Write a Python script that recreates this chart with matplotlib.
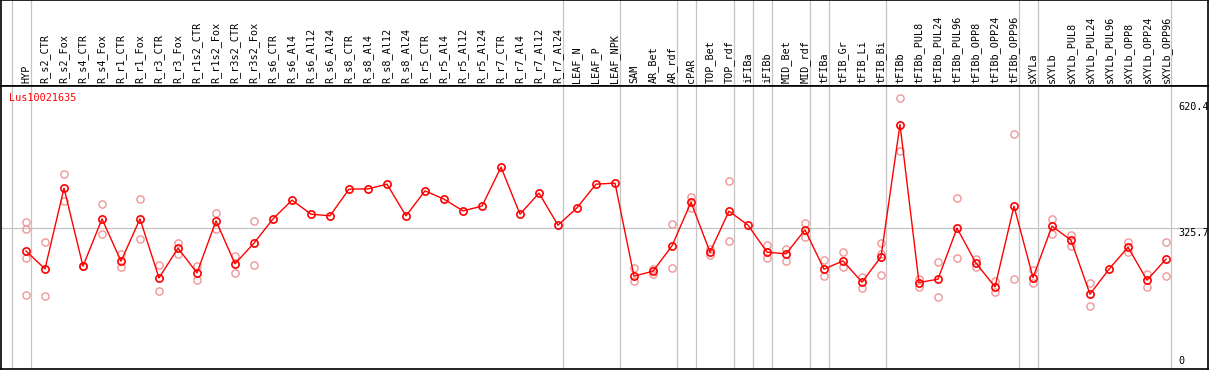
#!/usr/bin/env python3
"""
Expression profile of Lus10021635 across sample groups
Mean per sample as red line, single replicates as light circles
"""

import numpy as np
import matplotlib
matplotlib.use("Agg")
import matplotlib.pyplot as plt
import matplotlib.transforms as mtransforms

GENE_ID = "Lus10021635"

sample_labels = [
    "HYP", "R_s2_CTR", "R_s2_Fox", "R_s4_CTR", "R_s4_Fox", "R_r1_CTR", "R_r1_Fox",
    "R_r3_CTR", "R_r3_Fox", "R_r1s2_CTR", "R_r1s2_Fox", "R_r3s2_CTR", "R_r3s2_Fox",
    "R_s6_CTR", "R_s6_Al4", "R_s6_Al12", "R_s6_Al24", "R_s8_CTR", "R_s8_Al4",
    "R_s8_Al12", "R_s8_Al24", "R_r5_CTR", "R_r5_Al4", "R_r5_Al12", "R_r5_Al24",
    "R_r7_CTR", "R_r7_Al4", "R_r7_Al12", "R_r7_Al24", "LEAF_N", "LEAF_P", "LEAF_NPK",
    "SAM", "AR_Bet", "AR_rdf", "cPAR", "TOP_Bet", "TOP_rdf", "iFIBa", "iFIBb",
    "MID_Bet", "MID_rdf", "tFIBa", "tFIB_Gr", "tFIB_Li", "tFIB_Bi", "tFIBb",
    "tFIBb_PUL8", "tFIBb_PUL24", "tFIBb_PUL96", "tFIBb_OPP8", "tFIBb_OPP24", "tFIBb_OPP96",
    "sXYLa", "sXYLb", "sXYLb_PUL8", "sXYLb_PUL24", "sXYLb_PUL96", "sXYLb_OPP8",
    "sXYLb_OPP24", "sXYLb_OPP96",
]

# mean expression per sample
mean_vals = [
    273, 232.5, 416, 238.7, 346, 250, 346, 212, 279.6, 223.4,
    341.6, 244, 291, 346, 388.7, 356.8, 353, 413.7, 414.3, 425,
    353, 409.8, 390.9, 364.3, 375, 463.7, 356.8, 404.6, 331.8, 371.2,
    425, 427.3, 215.9, 227.3, 284.8, 384.1, 270.5, 363.7, 331.8, 270.5,
    266.6, 321.2, 231.8, 250.7, 202.3, 259.8, 560.5, 201.4, 209.1, 325,
    245.5, 191.6, 375, 212.7, 329.6, 297.7, 175, 231.8, 281.8, 206.8, 254.6,
]

# replicates (None = no separate replicate drawn)
rep_high = [
    339.3, 293.2, 448.4, 239.5, 379.6, 266.6, 391.6, 240.9, 291.6, 239.3,
    359.8, 262.1, 341.6, None, None, None, None, None, None, None,
    None, None, None, None, None, None, None, None, None, None,
    None, None, 234.1, 231.8, 334.1, 396.2, 277.3, 432.5, None, 287.1,
    278.7, 337.1, 253, 270.5, 214.3, 290.9, 620.4, 210.5, 247.7, 393.2,
    255.2, 205.2, 538.7, 230.2, 345.5, 309.8, 200, None, 293.9, 221.8, 293.2,
]
rep_low = [
    173.4, 170.5, 387.1, 238, 311.4, 236.4, 300.7, 182.5, 265.9, 206.8,
    322.7, 223.4, 241.6, None, None, None, None, None, None, None,
    None, None, None, None, None, None, None, None, None, None,
    None, None, 205.2, 221.2, 234.1, 371.2, 264.3, 295.5, None, 256.8,
    251.4, 305.9, 217.3, 237.7, 190, 218.2, 500, 190.9, 168.2, 256.8,
    236.4, 179.6, 209.1, 201.4, 311.4, 285.5, 147.7, None, 271.8, 190.9, 215.9,
]
# the few samples with more than two replicates
extra_rep_idx = [0, 0, 45]
extra_rep_vals = [322.7, 258.2, 267.3]

# group separators: drawn just right of these sample indices
group_ends = [-1, 0, 28, 31, 34, 35, 37, 38, 39, 41, 42, 45, 52, 53, 60]

y_ticks = [620.4, 325.7, 0]

W, H = 1209, 370
RED = "#ff0000"
LIGHT_RED = "#f09696"
GRID = "#c4c4c4"
MONO = "DejaVu Sans Mono"


def px_x(px):
    """pixel column -> sample index coordinate"""
    return (px - 26) / 19.0


def create_plot():
    fig = plt.figure(figsize=(W / 100, H / 100), dpi=100)

    left, right = 1 / W, 1208 / W
    sep, bottom = 86, 369
    ax_head = fig.add_axes([left, (H - sep) / H, right - left, sep / H])
    ax = fig.add_axes([left, (H - bottom) / H, right - left, (bottom - sep) / H])

    for a in (ax_head, ax):
        a.set_xlim(px_x(1), px_x(1208))
        a.set_xticks([])
        a.set_yticks([])
        for s in a.spines.values():
            s.set_linewidth(1.2)
            s.set_color("black")
        for k in group_ends:
            a.axvline(k + 0.24, color=GRID, linewidth=0.9, zorder=0)

    ax_head.set_ylim(0, 1)
    ax.set_ylim(5, 648)
    ax.axhline(325.7, color=GRID, linewidth=0.9, zorder=0)

    # sample labels in header
    trans = mtransforms.blended_transform_factory(ax_head.transData, ax_head.transAxes)
    for i, lab in enumerate(sample_labels):
        ax_head.text(i, 0.035, lab, rotation=90, ha="center", va="bottom",
                     fontsize=7.3, family=MONO, transform=trans)

    x = np.arange(len(sample_labels))
    hi = np.array([np.nan if v is None else v for v in rep_high], dtype=float)
    lo = np.array([np.nan if v is None else v for v in rep_low], dtype=float)

    rep_style = dict(linestyle="none", marker="o", markersize=5.2,
                     markerfacecolor="none", markeredgecolor=LIGHT_RED,
                     markeredgewidth=1.0, zorder=2)
    ax.plot(x, hi, **rep_style)
    ax.plot(x, lo, **rep_style)
    ax.plot(extra_rep_idx, extra_rep_vals, **rep_style)

    ax.plot(x, mean_vals, "-o", color=RED, linewidth=1.0, markersize=5.2,
            markerfacecolor="none", markeredgecolor=RED, markeredgewidth=1.2,
            zorder=3)

    # gene id
    ax.text(px_x(9), 0.975, GENE_ID, color=RED, fontsize=7.3, family=MONO,
            ha="left", va="top",
            transform=mtransforms.blended_transform_factory(ax.transData, ax.transAxes))

    # value labels on the right
    tx = px_x(1178)
    ax.text(tx, y_ticks[0] - 8, f"{y_ticks[0]}", fontsize=7.3, family=MONO, ha="left", va="top")
    ax.text(tx, y_ticks[1] - 1, f"{y_ticks[1]}", fontsize=7.3, family=MONO, ha="left", va="top")
    ax.text(tx, 0.012, f"{y_ticks[2]}", fontsize=7.3, family=MONO, ha="left", va="bottom",
            transform=mtransforms.blended_transform_factory(ax.transData, ax.transAxes))

    fig.savefig("out.png", dpi=100)
    return fig


def main():
    create_plot()
    return 0


if __name__ == "__main__":
    exit(main())
